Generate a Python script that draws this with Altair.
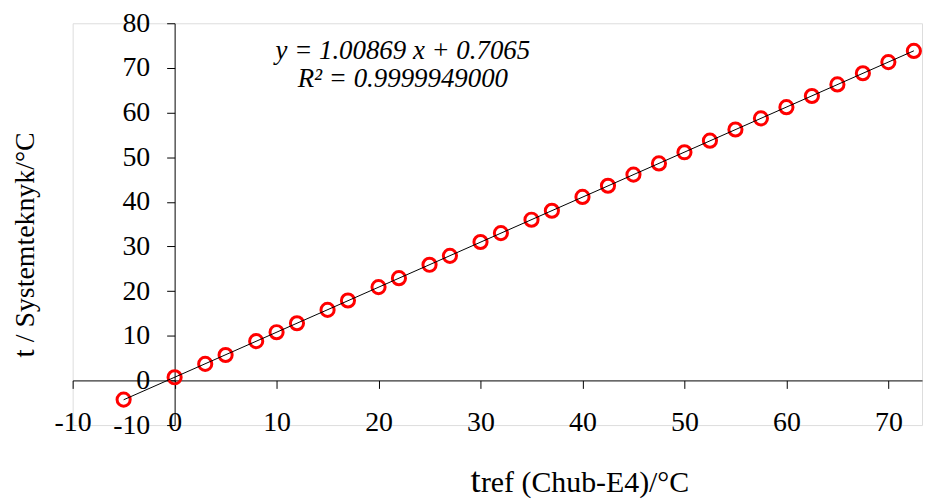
import altair as alt
import pandas as pd

# Data
t_ref = [-5, 0, 3, 5, 8, 10, 12, 15, 17, 20, 22, 25, 27, 30, 32, 35, 37, 40,
         42.5, 45, 47.5, 50, 52.5, 55, 57.5, 60, 62.5, 65, 67.5, 70, 72.5]
t_sys = [-4.3, 0.7, 3.7, 5.7, 8.8, 10.8, 12.8, 15.8, 17.9, 20.9, 22.9, 25.9,
         27.9, 31.0, 33.0, 36.0, 38.0, 41.1, 43.6, 46.1, 48.6, 51.1, 53.7,
         56.2, 58.7, 61.2, 63.7, 66.3, 68.8, 71.3, 73.8]
x_ticks = [-10, 0, 10, 20, 30, 40, 50, 60, 70]
y_ticks = [-10, 0, 10, 20, 30, 40, 50, 60, 70, 80]
eq_lines = ["y = 1.00869 x + 0.7065", "R² = 0.9999949000"]

df = pd.DataFrame({"x": t_ref, "y": t_sys})

W, H = 854, 404
XDOM = [-10, 73.3]
YDOM = [-10, 80]
FONT = "Liberation Serif"
TOP = 14

x_off = -(0 - XDOM[0]) / (XDOM[1] - XDOM[0]) * W
y_off = -(0 - YDOM[0]) / (YDOM[1] - YDOM[0]) * H

xs = alt.Scale(domain=XDOM, nice=False, zero=False)
ys = alt.Scale(domain=YDOM, nice=False, zero=False)

common = dict(grid=False, title=None, labelFont=FONT, labelFontSize=28,
              labelColor="black", domainColor="black", tickColor="black",
              tickSize=8, labelFlush=False, labelOverlap=False,
              labelExpr="'' + datum.value")
x_axis = alt.Axis(values=x_ticks, offset=y_off, labelPadding=20, **common)
y_axis = alt.Axis(values=y_ticks, offset=x_off, labelPadding=17, **common)

base = alt.Chart(df)

points = base.mark_point(shape="circle", filled=False, color="#ff0000",
                         size=175, strokeWidth=3, opacity=1).encode(
    x=alt.X("x:Q", scale=xs, axis=x_axis),
    y=alt.Y("y:Q", scale=ys, axis=y_axis),
)

line = base.transform_regression("x", "y", extent=[-5, 72.5]).mark_line(
    color="black", strokeWidth=1).encode(
    x=alt.X("x:Q", scale=xs),
    y=alt.Y("y:Q", scale=ys),
)

eq1 = alt.Chart(pd.DataFrame({"t": [eq_lines[0]]})).mark_text(
    font=FONT, fontSize=27, fontStyle="italic", color="black",
    align="center", baseline="alphabetic").encode(
    text="t:N", x=alt.value(332), y=alt.value(58 - 8 - TOP))
eq2 = alt.Chart(pd.DataFrame({"t": [eq_lines[1]]})).mark_text(
    font=FONT, fontSize=27, fontStyle="italic", color="black",
    align="center", baseline="alphabetic").encode(
    text="t:N", x=alt.value(332), y=alt.value(86 - 8 - TOP))

xt1 = alt.Chart(pd.DataFrame({"t": ["t"]})).mark_text(
    font=FONT, fontSize=37, color="black", align="left", baseline="alphabetic").encode(
    text="t:N", x=alt.value(400), y=alt.value(493 - 8 - TOP))
xt2 = alt.Chart(pd.DataFrame({"t": ["ref (Chub-E4)/°C"]})).mark_text(
    font=FONT, fontSize=30, color="black", align="left", baseline="alphabetic").encode(
    text="t:N", x=alt.value(410.5), y=alt.value(493 - 8 - TOP))

yt1 = alt.Chart(pd.DataFrame({"t": ["t"]})).mark_text(
    font=FONT, fontSize=30, color="black", align="left", baseline="alphabetic", angle=270).encode(
    text="t:N", x=alt.value(34 - 73), y=alt.value(358 - 8 - TOP))
yt2 = alt.Chart(pd.DataFrame({"t": ["/ Systemteknyk/°C"]})).mark_text(
    font=FONT, fontSize=28, color="black", align="left", baseline="alphabetic", angle=270).encode(
    text="t:N", x=alt.value(34 - 73), y=alt.value(358 - 8 - TOP - 8.3 - 7))

chart = alt.layer(points, line, eq1, eq2, xt1, xt2, yt1, yt2).properties(
    width=W, height=H,
    autosize=alt.AutoSizeParams(type="none"),
    padding={"left": 65, "top": TOP, "right": 5, "bottom": 492 - TOP - H},
).configure_view(stroke=None).configure(background="white")

chart.save("out.html", embed_options={"renderer": "svg", "actions": False})
